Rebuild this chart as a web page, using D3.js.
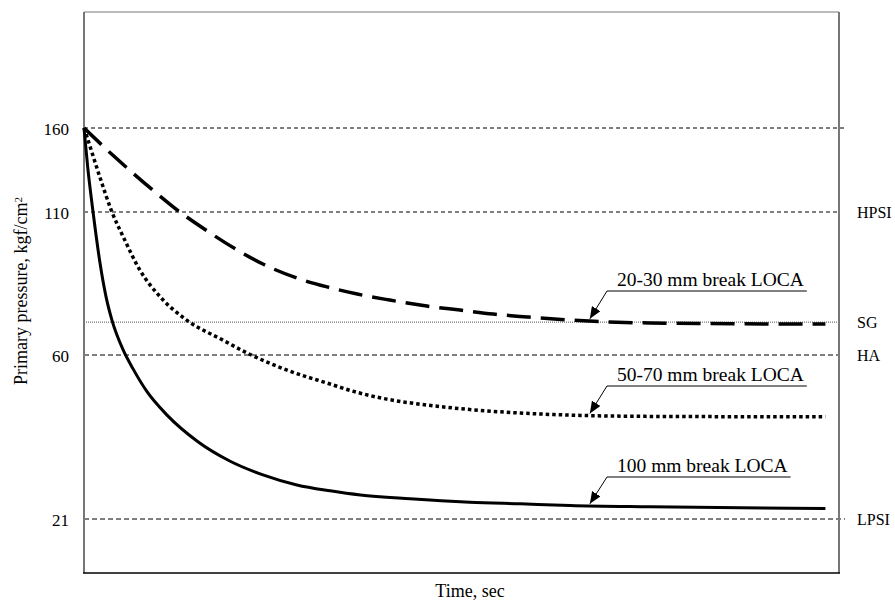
<!DOCTYPE html>
<html>
<head>
<meta charset="utf-8">
<script src="https://cdn.jsdelivr.net/npm/d3@7"></script>
<style>
  body { margin: 0; background: #fff; }
  svg text { font-family: "Liberation Serif", "Times New Roman", serif; fill: #000; }
</style>
</head>
<body>
<svg id="chart" width="895" height="601"></svg>
<script>
// pressure levels shown on the y axis (the axis is schematic, not linear)
const yTicks = [21, 60, 110, 160];

// reference levels and their right-hand labels
const refLevels = [160, 110, 71.5, 60, 21];
const refLabels = ["", "HPSI", "SG", "HA", "LPSI"];

const seriesNames = ["20-30 mm break LOCA", "50-70 mm break LOCA", "100 mm break LOCA"];

// 20-30 mm break (long dashes)
const t2030 = [0, 3.8, 9.1, 12.7, 16.3, 20.3, 23.7, 28.2, 32.2, 36.2, 40.5, 45.4, 49.8, 54.2, 58.7, 64.4, 75.0, 98.2];
const p2030 = [160, 143.9, 123.1, 110, 103.4, 96.7, 91.8, 86.9, 83.8, 81.3, 79.2, 77.1, 75.7, 74.3, 73.3, 72.2, 71.2, 70.8];

// 50-70 mm break (dots)
const t5070 = [0, 0.4, 2.1, 3.7, 5.2, 7.4, 10.1, 13.6, 18.4, 21.6, 26.9, 32.6, 35.6, 40.1, 44.5, 48.9, 53.4, 57.8, 64.4, 75.0, 98.2];
const p5070 = [160, 154.6, 130.8, 110, 101.3, 89.7, 80.3, 72.2, 65.2, 60.7, 56.4, 53.1, 51.4, 49.5, 48.3, 47.4, 46.7, 46.2, 45.7, 45.4, 45.3];

// 100 mm break (solid)
const t100 = [0, 0.5, 1.2, 2.1, 2.9, 3.7, 5.2, 6.5, 8.3, 11.0, 15.0, 19.3, 23.7, 28.2, 32.6, 36.6, 43.2, 51.1, 57.8, 64.4, 75.0, 98.2];
const p100 = [160, 136.2, 110, 92.5, 80.6, 72.2, 61.7, 56.7, 51.4, 45.7, 39.5, 34.8, 31.5, 29.1, 27.7, 26.7, 25.8, 25.0, 24.6, 24.2, 23.9, 23.5];

const noteTime = 67;

const svg = d3.select('#chart');
const frame = { left: 84, right: 839, top: 12, bottom: 573 };

const x = d3.scaleLinear().domain([0, 100]).range([frame.left, frame.right]);
// piecewise scale, one segment between each pair of labelled levels
const y = d3.scaleLinear().domain(yTicks).range([519, 355, 212, 128]);

// reference lines
const refStyle = [
  { stroke: '#000', width: 1, dash: '4,3', x2: 845 },
  { stroke: '#000', width: 1, dash: '4,3', x2: 838 },
  { stroke: '#555', width: 1, dash: '1,1', x2: 838 },
  { stroke: '#555', width: 1.5, dash: '5,3', x2: 838 },
  { stroke: '#555', width: 1.5, dash: '5,3', x2: 845 }
];

svg.append('g')
  .selectAll('line')
  .data(refLevels)
  .enter()
  .append('line')
  .attr('x1', frame.left)
  .attr('x2', (d, i) => refStyle[i].x2)
  .attr('y1', (d) => y(d))
  .attr('y2', (d) => y(d))
  .attr('stroke', (d, i) => refStyle[i].stroke)
  .attr('stroke-width', (d, i) => refStyle[i].width)
  .attr('stroke-dasharray', (d, i) => refStyle[i].dash);

svg.append('g')
  .selectAll('text')
  .data(refLevels)
  .enter()
  .append('text')
  .attr('x', 857)
  .attr('y', (d) => y(d))
  .attr('dy', '0.35em')
  .attr('font-size', '16px')
  .text((d, i) => refLabels[i]);

// frame
svg.append('line').attr('x1', frame.left).attr('x2', frame.right).attr('y1', frame.top).attr('y2', frame.top)
  .attr('stroke', '#777').attr('stroke-width', 1);
svg.append('line').attr('x1', frame.left).attr('x2', frame.left).attr('y1', frame.top).attr('y2', frame.bottom)
  .attr('stroke', '#777').attr('stroke-width', 2);
svg.append('line').attr('x1', frame.right).attr('x2', frame.right).attr('y1', frame.top).attr('y2', frame.bottom)
  .attr('stroke', '#777').attr('stroke-width', 2);
svg.append('line').attr('x1', frame.left - 1).attr('x2', frame.right + 1).attr('y1', frame.bottom).attr('y2', frame.bottom)
  .attr('stroke', '#000').attr('stroke-width', 1.5);

// y tick labels
const yAxis = d3.axisLeft(y).tickValues(yTicks).tickSize(0).tickPadding(0).tickFormat(d3.format('d'));
const yAxisG = svg.append('g').attr('transform', 'translate(69,0)').call(yAxis);
yAxisG.select('.domain').remove();
yAxisG.selectAll('text')
  .attr('font-size', '17px')
  .attr('font-family', '"Liberation Serif", "Times New Roman", serif')
  .attr('fill', '#000')
  .attr('dy', '0.4em');

// axis titles
svg.append('text')
  .attr('x', 470)
  .attr('y', 597)
  .attr('text-anchor', 'middle')
  .attr('font-size', '18px')
  .text('Time, sec');

const yTitle = svg.append('text')
  .attr('transform', 'translate(27,291) rotate(-90)')
  .attr('text-anchor', 'middle')
  .attr('font-size', '18px');
yTitle.append('tspan').text('Primary pressure, kgf/cm');
yTitle.append('tspan').attr('dy', '-0.45em').attr('font-size', '11px').text('2');

// curves
const series = [
  { t: t2030, p: p2030, dash: '24,10', width: 3.5 },
  { t: t5070, p: p5070, dash: '3.5,3', width: 3.5 },
  { t: t100, p: p100, dash: null, width: 3 }
];

const line = d3.line()
  .x((d) => x(d[0]))
  .y((d) => y(d[1]))
  .curve(d3.curveMonotoneX);

svg.append('g')
  .selectAll('path')
  .data(series)
  .enter()
  .append('path')
  .attr('d', (s) => line(s.t.map((t, i) => [t, s.p[i]])))
  .attr('fill', 'none')
  .attr('stroke', '#000')
  .attr('stroke-width', (s) => s.width)
  .attr('stroke-dasharray', (s) => s.dash)
  .attr('stroke-linejoin', 'round');

// annotations with arrows
svg.append('defs')
  .append('marker')
  .attr('id', 'arrow')
  .attr('viewBox', '0 0 12 10')
  .attr('refX', 12)
  .attr('refY', 5)
  .attr('markerWidth', 12)
  .attr('markerHeight', 10)
  .attr('markerUnits', 'userSpaceOnUse')
  .attr('orient', 'auto')
  .append('path')
  .attr('d', 'M0,0 L12,5 L0,10 Z')
  .attr('fill', '#000');

const noteBaselines = [286, 381, 472];

series.forEach((s, i) => {
  const tipY = y(d3.scaleLinear().domain(s.t).range(s.p)(noteTime)) - 2;
  const tipX = x(noteTime);
  const g = svg.append('g');
  const label = g.append('text')
    .attr('x', 617)
    .attr('y', noteBaselines[i])
    .attr('font-size', '19.5px')
    .text(seriesNames[i]);
  const w = label.node().getComputedTextLength();
  const uy = noteBaselines[i] + 5;
  g.append('polyline')
    .attr('points', `${617 + w + 3},${uy} 607,${uy} ${tipX},${tipY}`)
    .attr('fill', 'none')
    .attr('stroke', '#000')
    .attr('stroke-width', 1)
    .attr('marker-end', 'url(#arrow)');
});
</script>
</body>
</html>
